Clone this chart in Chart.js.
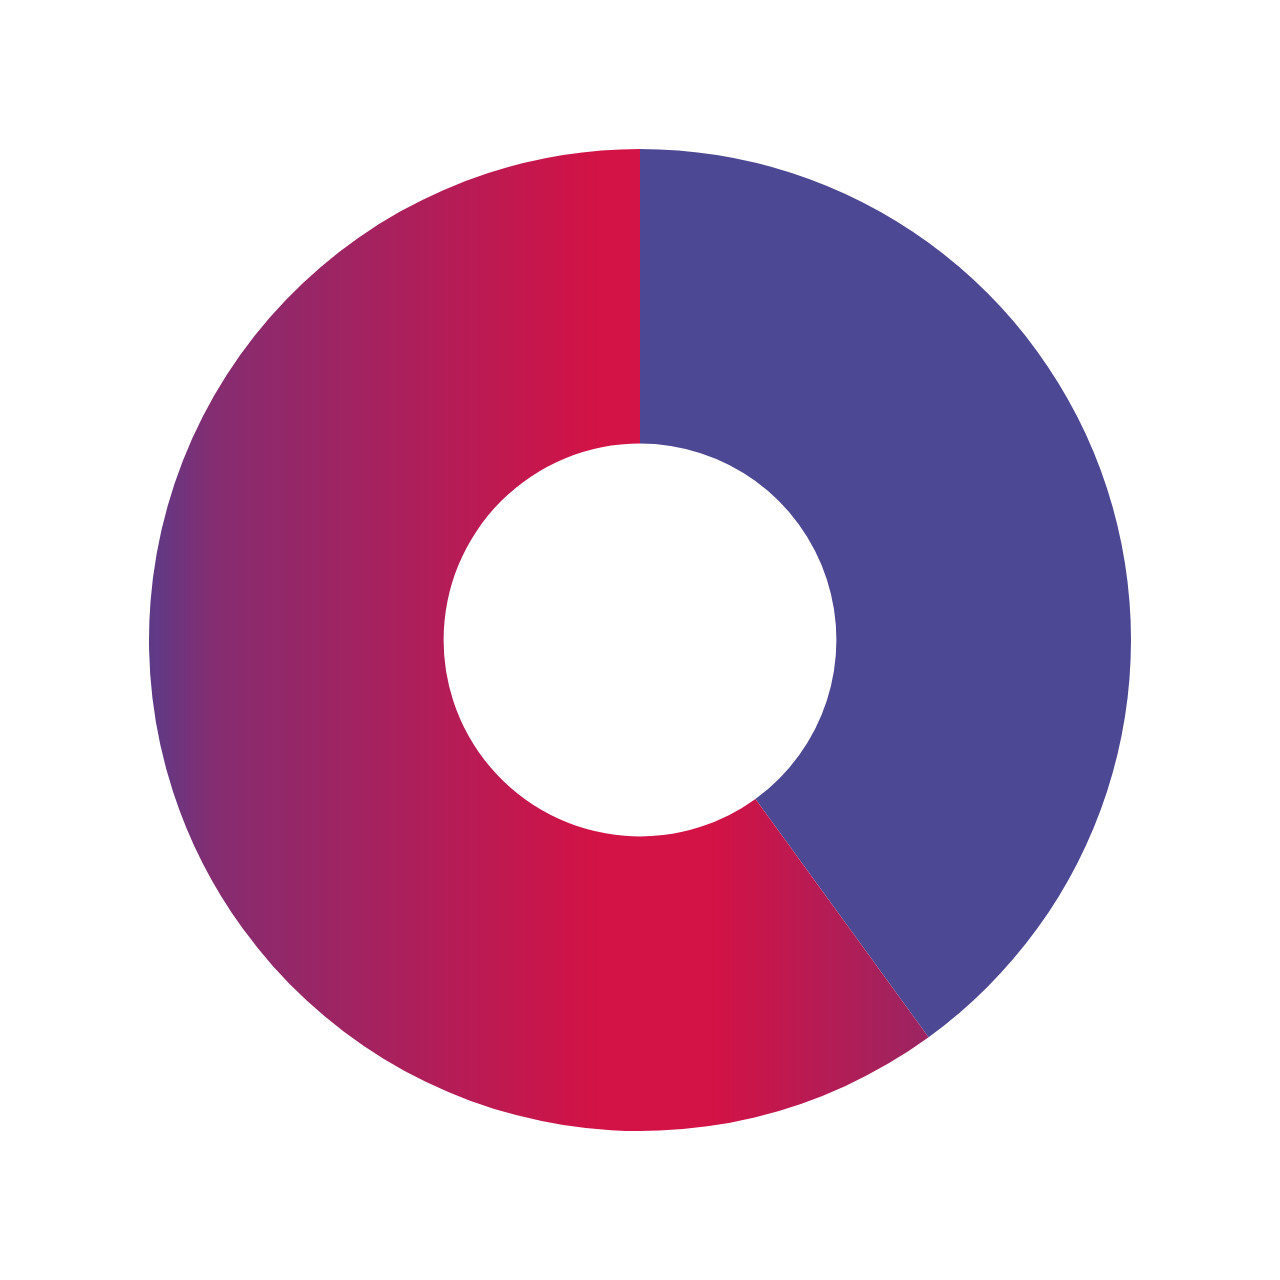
<!DOCTYPE html>
<html lang="en">
<head>
    <meta charset="UTF-8">
    <title>Doughnut</title>
    <script src="https://cdn.jsdelivr.net/npm/chart.js"></script>
    <style>
        html, body { margin: 0; padding: 0; background: #fff; }
        #wrap { width: 1280px; height: 1280px; }
    </style>
</head>
<body>
<div id="wrap"><canvas id="myChart"></canvas></div>
<script>
    // Chart data
    const labels = ['Blue', 'Red'];
    const values = [40, 60];
    const blueColor = '#4C4893';
    // gradient colour stops for the red slice (left to right)
    const gradientStops = [
        [0.00, '#5C3B87'],
        [0.08, '#842D71'],
        [0.58, '#D31245'],
        [0.72, '#D31245'],
        [1.00, '#9A2562']
    ];

    // Build horizontal gradient spanning the red slice
    function redGradient(context) {
        const chart = context.chart;
        const area = chart.chartArea;
        if (!area) return '#D31245';
        const cx = (area.left + area.right) / 2;
        const r = Math.min(area.right - area.left, area.bottom - area.top) / 2;
        const total = values.reduce((a, b) => a + b, 0);
        const endAngle = 2 * Math.PI * values[0] / total;
        const x0 = cx - r;
        const x1 = cx + r * Math.sin(endAngle);
        const g = chart.ctx.createLinearGradient(x0, 0, x1, 0);
        gradientStops.forEach(s => g.addColorStop(s[0], s[1]));
        return g;
    }

    new Chart(document.getElementById('myChart'), {
        type: 'doughnut',
        data: {
            labels: labels,
            datasets: [{
                data: values,
                backgroundColor: function(context) {
                    return context.dataIndex === 0 ? blueColor : redGradient(context);
                },
                borderWidth: 0,
                hoverOffset: 0
            }]
        },
        options: {
            responsive: true,
            maintainAspectRatio: false,
            animation: false,
            cutout: '40%',
            layout: { padding: 149 },
            plugins: {
                legend: { display: false },
                tooltip: { enabled: false }
            }
        }
    });
</script>
</body>
</html>
